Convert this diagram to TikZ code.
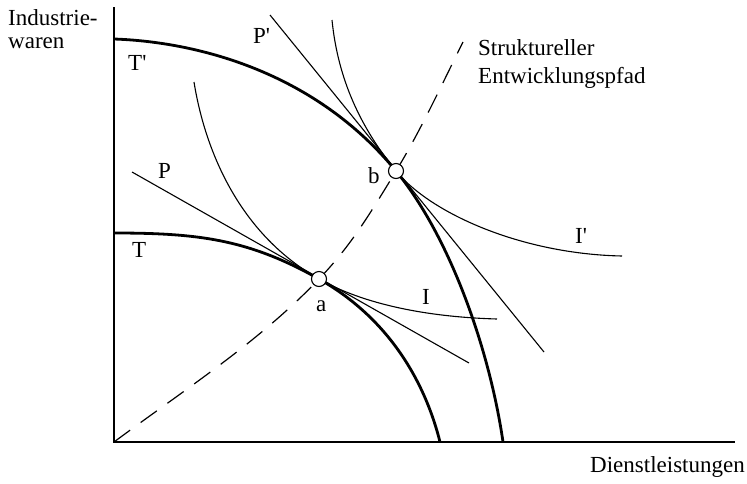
\documentclass[tikz,border=0pt]{standalone}
\usepackage{fontspec}
\setmainfont{Liberation Serif}[Ligatures=TeXOff]
\begin{document}
\begin{tikzpicture}[x=1pt,y=-1pt]
\tikzset{
  thickcurve/.style={line width=2.8pt},
  thincurve/.style={line width=1.1pt},
  axisline/.style={line width=1.8pt},
  dashpath/.style={line width=1.2pt, dash pattern=on 20pt off 13pt},
  lbl/.style={font=\fontsize{23}{28}\selectfont, inner sep=0pt, anchor=base west},
  pt/.style={circle, draw, line width=1.1pt, fill=white, minimum size=15pt, inner sep=0pt}
}
\useasboundingbox (0,0) rectangle (747,483);
% coordinates
\coordinate (o) at (114,442);
\coordinate (ytop) at (114,7);
\coordinate (xend) at (735,442);
\coordinate (a) at (319,279);
\coordinate (b) at (396,171);
\coordinate (T0) at (114,233);
\coordinate (T1) at (440,442);
\coordinate (Tp0) at (114,39);
\coordinate (Tp1) at (503,442);
\coordinate (P0) at (132,172);
\coordinate (P1) at (469,363);
\coordinate (Pp0) at (270,15);
\coordinate (Pp1) at (544,352);
\coordinate (I0) at (194,82);
\coordinate (I1) at (497,319);
\coordinate (Ip0) at (332,20);
\coordinate (Ip1) at (622,256);
\coordinate (top) at (463,42);
% axes
\draw[axisline] (ytop) -- (o) -- (xend);
% dashed development path
\draw[dashpath] (o) .. controls +(70,-52) and +(-60,63) .. (a)
  .. controls +(30,-31.5) and +(-30,49.5) .. (b)
  .. controls +(25,-41) and +(-20,40) .. (top);
% transformation curves
\draw[thickcurve] (T0) .. controls (199,233) and (249,239.5) .. (a)
  .. controls (389,318.5) and (425,382) .. (T1);
\draw[thickcurve] (Tp0) .. controls (200,42) and (316,73.4) .. (b)
  .. controls (451,238) and (490,352) .. (Tp1);
% price lines
\draw[thincurve] (P0) -- (P1);
\draw[thincurve] (Pp0) -- (Pp1);
% indifference curves
\draw[thincurve] (I0) .. controls (202,132) and (229,228) .. (a)
  .. controls (364,304.4) and (427,317) .. (I1);
\draw[thincurve] (Ip0) .. controls (338,80) and (361,128) .. (b)
  .. controls (431,213.7) and (522,254) .. (Ip1);
% points
\node[pt] (pa) at (a) {};
\node[pt] (pb) at (b) {};
% labels
\node[lbl] (yl1) at (8,25) {Industrie-};
\node[lbl] (yl2) at (8,48) {waren};
\node[lbl, anchor=base east] (xl) at (745,472) {Dienstleistungen};
\node[lbl] (sp1) at (478,55) {Struktureller};
\node[lbl] (sp2) at (478,83) {Entwicklungspfad};
\node[lbl] (lTp) at (128,70) {T'};
\node[lbl] (lT) at (132,257) {T};
\node[lbl] (lP) at (158,178) {P};
\node[lbl] (lPp) at (253,43) {P'};
\node[lbl] (lb) at (368,183) {b};
\node[lbl] (la) at (316,311) {a};
\node[lbl] (lI) at (422,304) {I};
\node[lbl] (lIp) at (575,243) {I'};
\end{tikzpicture}
\end{document}
